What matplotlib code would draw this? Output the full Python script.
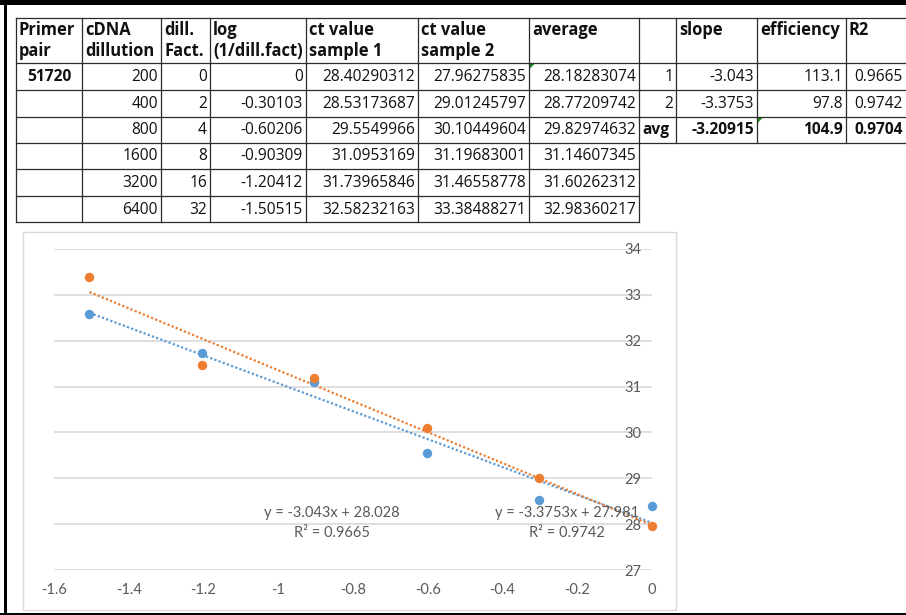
import matplotlib
matplotlib.use("Agg")
import matplotlib.pyplot as plt
from matplotlib.patches import Rectangle, Polygon
from matplotlib.ticker import FixedLocator, FuncFormatter

plt.rcParams["font.family"] = ["Lato", "DejaVu Sans"]

# ---- data ----
primer_pair = "51720"
dilution = [200, 400, 800, 1600, 3200, 6400]
dill_fact = [0, 2, 4, 8, 16, 32]
log_dill = [0, -0.30103, -0.60206, -0.90309, -1.20412, -1.50515]
ct_sample1 = [28.40290312, 28.53173687, 29.5549966, 31.0953169, 31.73965846, 32.58232163]
ct_sample2 = [27.96275835, 29.01245797, 30.10449604, 31.19683001, 31.46558778, 33.38488271]
ct_average = [28.18283074, 28.77209742, 29.82974632, 31.14607345, 31.60262312, 32.98360217]

summary_rows = ["1", "2", "avg"]
slopes = [-3.043, -3.3753, -3.20915]
efficiency = [113.1, 97.8, 104.9]
r_squared = [0.9665, 0.9742, 0.9704]

fit_slope = [-3.043, -3.3753]
fit_intercept = [28.028, 27.981]
fit_r2 = [0.9665, 0.9742]

headers = ["Primer\npair", "cDNA\ndillution", "dill.\nFact.", "log\n(1/dill.fact)",
           "ct value\nsample 1", "ct value\nsample 2", "average"]
summary_headers = ["", "slope", "efficiency", "R2"]

x_ticks = [-1.6, -1.4, -1.2, -1, -0.8, -0.6, -0.4, -0.2, 0]
y_ticks = [27, 28, 29, 30, 31, 32, 33, 34]

BLUE = "#5B9BD5"
ORANGE = "#ED7D31"
GREY_TXT = "#595959"
GRID = "#D9D9D9"
TABLE_FONT = ["Open Sans", "DejaVu Sans"]

W, H = 906, 615
fig = plt.figure(figsize=(W / 100, H / 100), dpi=100)

# sheet layer in pixel coordinates
bg = fig.add_axes([0, 0, 1, 1])
bg.set_xlim(0, W)
bg.set_ylim(H, 0)
bg.axis("off")

# frame around the sheet
bg.add_patch(Rectangle((0, 0), W, 5, color="black", lw=0))
bg.add_patch(Rectangle((4, 0), 3, H, color="black", lw=0))
bg.add_patch(Rectangle((0, 613), W, 2, color="black", lw=0))

col_x = [16, 82, 161, 210, 306, 418, 529, 639, 676, 757, 846, 906]
row_y = [18, 63, 90, 117, 143, 169, 196, 222]
LC = "#2b2b2b"
LW = 0.9
FS = 11.2
FS_HEAD = 11.9

# grid of main table
for y in row_y:
    bg.plot([col_x[0], col_x[7]], [y, y], color=LC, lw=LW)
for x in col_x[:8]:
    bg.plot([x, x], [row_y[0], row_y[-1]], color=LC, lw=LW)
# grid of summary table
for y in row_y[:5]:
    bg.plot([col_x[7], W + 10], [y, y], color=LC, lw=LW)
for x in col_x[8:11]:
    bg.plot([x, x], [row_y[0], row_y[4]], color=LC, lw=LW)


def cell_text(col, row, s, align="right", bold=False):
    y = (row_y[row] + row_y[row + 1]) / 2 + 0.5
    if align == "right":
        x, ha = col_x[col + 1] - 3, "right"
    elif align == "center":
        x, ha = (col_x[col] + col_x[col + 1]) / 2, "center"
    else:
        x, ha = col_x[col] + 3, "left"
    bg.text(x, y, s, ha=ha, va="center", fontsize=FS, color="#111111",
            family=TABLE_FONT, fontweight="bold" if bold else "normal")


def header_text(x, y, s):
    bg.text(x, y, s, ha="left", va="center", fontsize=FS_HEAD, fontweight="bold",
            color="#111111", family=TABLE_FONT)


# header rows
for c, h in enumerate(headers):
    l1, _, l2 = h.partition("\n")
    x = col_x[c] + 3
    header_text(x, 30, l1)
    if l2:
        header_text(x, 51, l2)
for i, h in enumerate(summary_headers):
    if h:
        header_text(col_x[7 + i] + 3, 30, h)

cell_text(0, 1, primer_pair, align="center", bold=True)
for i in range(len(dilution)):
    r = i + 1
    cell_text(1, r, str(dilution[i]))
    cell_text(2, r, str(dill_fact[i]))
    cell_text(3, r, str(log_dill[i]))
    cell_text(4, r, str(ct_sample1[i]))
    cell_text(5, r, str(ct_sample2[i]))
    cell_text(6, r, str(ct_average[i]))

for i in range(len(summary_rows)):
    r = i + 1
    bold = summary_rows[i] == "avg"
    cell_text(7, r, summary_rows[i], align="left" if bold else "right", bold=bold)
    cell_text(8, r, str(slopes[i]), bold=bold)
    cell_text(9, r, f"{efficiency[i]:.1f}", bold=bold)
    cell_text(10, r, f"{r_squared[i]:.4f}", bold=bold)

# little green flags in cell corners
for (cx, cy) in [(col_x[6], row_y[1]), (col_x[9], row_y[3])]:
    bg.add_patch(Polygon([(cx + 0.5, cy + 0.5), (cx + 6, cy + 0.5), (cx + 0.5, cy + 6)],
                         closed=True, color="#1a8a1a", lw=0))

# chart frame
bg.add_patch(Rectangle((23, 232), 653, 378, fill=False, ec=GRID, lw=1))

# ---- chart ----
px_l, px_r, px_t, px_b = 54, 652, 249, 570
ax = fig.add_axes([px_l / W, 1 - px_b / H, (px_r - px_l) / W, (px_b - px_t) / H])
ax.set_xlim(-1.6, 0)
ax.set_ylim(27, 34)
ax.patch.set_alpha(0)
for s in ax.spines.values():
    s.set_visible(False)

ax.yaxis.set_major_locator(FixedLocator(y_ticks))
ax.xaxis.set_major_locator(FixedLocator(x_ticks))
ax.xaxis.set_major_formatter(FuncFormatter(lambda v, p: f"{v:g}"))
ax.grid(axis="y", color=GRID, lw=1.2, zorder=0)
ax.yaxis.tick_right()
ax.tick_params(axis="y", length=0, pad=-20, labelsize=10.5, labelcolor=GREY_TXT)
ax.tick_params(axis="x", length=0, pad=9, labelsize=10.5, labelcolor=GREY_TXT)
for lab in ax.get_yticklabels():
    lab.set_zorder(5)

x_lo, x_hi = min(log_dill), max(log_dill)
for sl, ic, col in zip(fit_slope, fit_intercept, [BLUE, ORANGE]):
    ax.plot([x_lo, x_hi], [sl * x_lo + ic, sl * x_hi + ic], color=col, lw=1.6,
            ls=(0, (1, 1)), zorder=3, clip_on=False)

ax.plot(log_dill, ct_sample1, "o", color=BLUE, ms=6.8, mew=0, zorder=4, clip_on=False)
ax.plot(log_dill, ct_sample2, "o", color=ORANGE, ms=6.8, mew=0, zorder=4, clip_on=False)

# trendline equations
label_x = [-0.856, -0.227]
for lx, sl, ic, r2 in zip(label_x, fit_slope, fit_intercept, fit_r2):
    ax.text(lx, 28.24, f"y = {sl:g}x + {ic:g}", ha="center", va="center",
            fontsize=10.5, color=GREY_TXT, zorder=6)
    ax.text(lx, 27.80, f"R² = {r2:.4f}", ha="center", va="center",
            fontsize=10.5, color=GREY_TXT, zorder=6)

fig.savefig("out.png", dpi=100)
